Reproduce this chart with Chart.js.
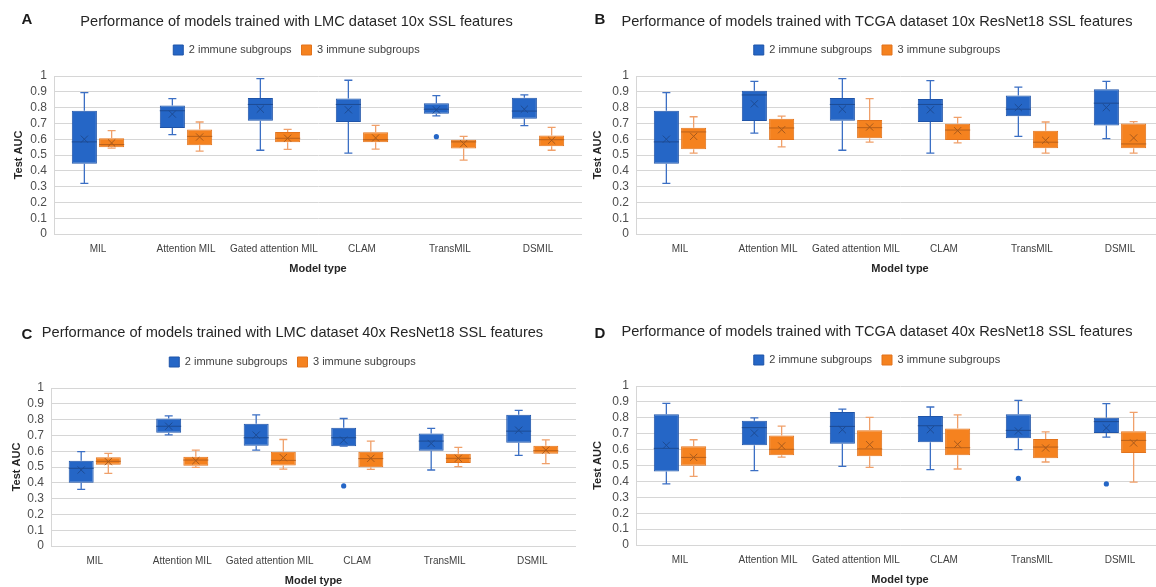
<!DOCTYPE html>
<html>
<head>
<meta charset="utf-8">
<script src="https://cdn.jsdelivr.net/npm/chart.js@4.4.1/dist/chart.umd.min.js"></script>
<style>
html,body{margin:0;padding:0;background:#fff;overflow:hidden;}
#wrap{position:relative;width:1156px;height:587px;overflow:hidden;background:#fff;}
#wrap canvas{position:absolute;}
.tag{position:absolute;font:bold 15px "Liberation Sans",Arial,sans-serif;color:#1a1a1a;transform:translate(-50%,-50%);line-height:1;}
</style>
</head>
<body>
<div id="wrap">
  <canvas id="cA" width="571" height="280" style="left:11px;top:0px"></canvas>
  <canvas id="cB" width="574" height="280" style="left:590px;top:0px"></canvas>
  <canvas id="cC" width="567" height="292" style="left:9px;top:300px"></canvas>
  <canvas id="cD" width="574" height="291" style="left:590px;top:300px"></canvas>
  <div class="tag" style="left:27px;top:18px">A</div>
  <div class="tag" style="left:600px;top:18px">B</div>
  <div class="tag" style="left:27px;top:333px">C</div>
  <div class="tag" style="left:600px;top:332px">D</div>
</div>
<script>
// ---------- data ----------
const categories = ['MIL', 'Attention MIL', 'Gated attention MIL', 'CLAM', 'TransMIL', 'DSMIL'];
const seriesNames = ['2 immune subgroups', '3 immune subgroups'];
const yTickValues = [0, 0.1, 0.2, 0.3, 0.4, 0.5, 0.6, 0.7, 0.8, 0.9, 1];
const titles = [
  'Performance of models trained with LMC dataset 10x SSL features',
  'Performance of models trained with TCGA dataset 10x ResNet18 SSL features',
  'Performance of models trained with LMC dataset 40x ResNet18 SSL features',
  'Performance of models trained with TCGA dataset 40x ResNet18 SSL features'
];
// each row: [min, q1, median, q3, max, mean]
const A_two = [
  [0.320, 0.444, 0.583, 0.780, 0.895, 0.600],
  [0.629, 0.671, 0.780, 0.813, 0.857, 0.759],
  [0.530, 0.717, 0.820, 0.860, 0.983, 0.790],
  [0.512, 0.709, 0.820, 0.857, 0.973, 0.786],
  [0.748, 0.761, 0.790, 0.828, 0.876, 0.786],
  [0.686, 0.730, 0.778, 0.862, 0.880, 0.790]
];
const A_three = [
  [0.543, 0.549, 0.566, 0.606, 0.654, 0.576],
  [0.524, 0.562, 0.618, 0.662, 0.709, 0.614],
  [0.535, 0.581, 0.606, 0.646, 0.662, 0.606],
  [0.537, 0.581, 0.597, 0.644, 0.688, 0.608],
  [0.468, 0.541, 0.583, 0.597, 0.618, 0.572],
  [0.530, 0.556, 0.597, 0.623, 0.675, 0.593]
];
const B_two = [
  [0.320, 0.444, 0.583, 0.780, 0.895, 0.600],
  [0.639, 0.715, 0.880, 0.906, 0.966, 0.824],
  [0.530, 0.717, 0.820, 0.860, 0.983, 0.790],
  [0.512, 0.709, 0.820, 0.855, 0.971, 0.786],
  [0.618, 0.746, 0.790, 0.876, 0.929, 0.800],
  [0.604, 0.686, 0.828, 0.916, 0.966, 0.800]
];
const B_three = [
  [0.512, 0.537, 0.646, 0.673, 0.742, 0.618],
  [0.551, 0.595, 0.671, 0.730, 0.746, 0.660],
  [0.581, 0.606, 0.673, 0.721, 0.857, 0.677],
  [0.577, 0.595, 0.658, 0.698, 0.738, 0.654],
  [0.512, 0.543, 0.581, 0.654, 0.709, 0.593],
  [0.512, 0.543, 0.570, 0.700, 0.711, 0.608]
];
const C_two = [
  [0.359, 0.401, 0.492, 0.540, 0.597, 0.481],
  [0.703, 0.716, 0.758, 0.807, 0.824, 0.758],
  [0.607, 0.634, 0.685, 0.773, 0.830, 0.702],
  [0.632, 0.632, 0.685, 0.748, 0.807, 0.670],
  [0.481, 0.603, 0.664, 0.712, 0.744, 0.649],
  [0.574, 0.653, 0.727, 0.830, 0.859, 0.733]
];
const C_three = [
  [0.460, 0.515, 0.536, 0.561, 0.586, 0.534],
  [0.498, 0.508, 0.544, 0.565, 0.607, 0.540],
  [0.487, 0.510, 0.542, 0.597, 0.674, 0.559],
  [0.485, 0.498, 0.553, 0.597, 0.664, 0.555],
  [0.502, 0.525, 0.555, 0.584, 0.624, 0.555],
  [0.521, 0.584, 0.603, 0.634, 0.672, 0.607]
];
const D_two = [
  [0.384, 0.463, 0.608, 0.822, 0.891, 0.627],
  [0.468, 0.627, 0.738, 0.782, 0.799, 0.704],
  [0.495, 0.637, 0.746, 0.836, 0.855, 0.725],
  [0.474, 0.646, 0.750, 0.811, 0.868, 0.725],
  [0.600, 0.671, 0.721, 0.822, 0.910, 0.717],
  [0.679, 0.704, 0.776, 0.801, 0.889, 0.736]
];
const D_three = [
  [0.432, 0.499, 0.551, 0.621, 0.662, 0.551],
  [0.553, 0.564, 0.602, 0.688, 0.748, 0.623],
  [0.488, 0.558, 0.604, 0.721, 0.803, 0.631],
  [0.478, 0.564, 0.612, 0.732, 0.818, 0.633],
  [0.522, 0.545, 0.616, 0.667, 0.711, 0.610],
  [0.396, 0.579, 0.658, 0.715, 0.834, 0.642]
];
// outliers per category
const A_two_out = [[], [], [], [], [0.616], []];
const B_two_out = [[], [], [], [], [], []];
const C_two_out = [[], [], [], [0.380], [], []];
const D_two_out = [[], [], [], [], [0.419], [0.384]];
const noOut = [[], [], [], [], [], []];

// ---------- styling ----------
const FONT = '"Liberation Sans", Arial, Helvetica, sans-serif';
const styles = [
  { fill: '#2566c6', border: '#1f54a8', whisker: '#3b6fc4', median: '#1d4b93', mean: '#1d4b93', dot: '#2566c6' },
  { fill: '#f5821f', border: '#e2731c', whisker: '#f0a06a', median: '#b9601a', mean: '#a85a1c', dot: '#f5821f' }
];

const boxExtras = {
  id: 'boxExtras',
  afterDatasetsDraw(chart) {
    const ctx = chart.ctx;
    const ys = chart.scales.y;
    chart.data.datasets.forEach((ds, di) => {
      const meta = chart.getDatasetMeta(di);
      const st = styles[di];
      meta.data.forEach((bar, i) => {
        const r = ds.stats[i];
        const x = bar.x, w = bar.width;
        const pMin = ys.getPixelForValue(r[0]);
        const pQ1 = ys.getPixelForValue(r[1]);
        const pMed = ys.getPixelForValue(r[2]);
        const pQ3 = ys.getPixelForValue(r[3]);
        const pMax = ys.getPixelForValue(r[4]);
        const pMean = ys.getPixelForValue(r[5]);
        ctx.save();
        ctx.strokeStyle = st.whisker;
        ctx.lineWidth = 1.3;
        ctx.beginPath();
        ctx.moveTo(x, pQ3); ctx.lineTo(x, pMax);
        ctx.moveTo(x, pQ1); ctx.lineTo(x, pMin);
        const cw = 4;
        ctx.moveTo(x - cw, pMax); ctx.lineTo(x + cw, pMax);
        ctx.moveTo(x - cw, pMin); ctx.lineTo(x + cw, pMin);
        ctx.stroke();
        // median
        ctx.strokeStyle = st.median;
        ctx.lineWidth = 1;
        ctx.beginPath();
        ctx.moveTo(x - w / 2, pMed); ctx.lineTo(x + w / 2, pMed);
        ctx.stroke();
        // mean X
        const s = 3.6;
        ctx.strokeStyle = st.mean;
        ctx.lineWidth = 1;
        ctx.beginPath();
        ctx.moveTo(x - s, pMean - s); ctx.lineTo(x + s, pMean + s);
        ctx.moveTo(x - s, pMean + s); ctx.lineTo(x + s, pMean - s);
        ctx.stroke();
        // outliers
        (ds.outliers[i] || []).forEach(v => {
          ctx.fillStyle = st.dot;
          ctx.beginPath();
          ctx.arc(x, ys.getPixelForValue(v), 2.6, 0, Math.PI * 2);
          ctx.fill();
        });
        ctx.restore();
      });
    });
  }
};

function makePanel(canvasId, title, two, three, twoOut, threeOut, yWidth, tPadTop, tPadBot) {
  const sets = [two, three];
  const outs = [twoOut, threeOut];
  const datasets = sets.map((rows, k) => ({
    label: seriesNames[k],
    data: rows.map(r => [r[1], r[3]]),
    stats: rows,
    outliers: outs[k],
    backgroundColor: styles[k].fill,
    borderColor: styles[k].border,
    borderWidth: 1,
    borderSkipped: false,
    categoryPercentage: 0.62,
    barPercentage: 0.92
  }));
  new Chart(document.getElementById(canvasId), {
    type: 'bar',
    data: { labels: categories, datasets },
    plugins: [boxExtras],
    options: {
      responsive: false,
      animation: false,
      events: [],
      layout: { padding: 0 },
      plugins: {
        title: {
          display: true, text: title, color: '#262626',
          font: { family: FONT, size: 14.6, weight: 'normal' },
          padding: { top: tPadTop, bottom: tPadBot }
        },
        subtitle: {
          display: true, text: '', weight: 500,
          font: { family: FONT, size: 1 },
          padding: { top: 9.3, bottom: 0 }
        },
        legend: {
          display: true, position: 'top',
          labels: {
            boxWidth: 10, boxHeight: 10, padding: 10, color: '#404040',
            font: { family: FONT, size: 11 }
          }
        },
        tooltip: { enabled: false }
      },
      scales: {
        x: {
          grid: { display: false },
          border: { display: true, color: '#d6d6d6', width: 1 },
          ticks: { color: '#404040', font: { family: FONT, size: 10 }, padding: 1, maxRotation: 0, autoSkip: false },
          title: { display: true, text: 'Model type', color: '#262626', font: { family: FONT, size: 11, weight: 'bold' }, padding: { top: 4, bottom: 4 } },
          afterFit: s => { s.height = 46; }
        },
        y: {
          min: 0, max: 1,
          afterBuildTicks: s => { s.ticks = yTickValues.map(v => ({ value: v })); },
          grid: { color: '#d6d6d6', lineWidth: 1, drawTicks: false },
          border: { display: true, color: '#d6d6d6', width: 1 },
          ticks: { color: '#4d4d4d', font: { family: FONT, size: 12 }, padding: 7, autoSkip: false, callback: v => String(Math.round(v * 10) / 10) },
          title: { display: true, text: 'Test AUC', color: '#262626', font: { family: FONT, size: 11, weight: 'bold' }, padding: { top: 1, bottom: 2 } },
          afterFit: s => { s.width = yWidth; }
        }
      }
    }
  });
}

makePanel('cA', titles[0], A_two, A_three, A_two_out, noOut, 43, 13.24, 3.74);
makePanel('cB', titles[1], B_two, B_three, B_two_out, noOut, 46, 13.24, 3.74);
makePanel('cC', titles[2], C_two, C_three, C_two_out, noOut, 42, 24.24, 4.74);
makePanel('cD', titles[3], D_two, D_three, D_two_out, noOut, 46, 23.24, 3.74);
</script>
</body>
</html>
